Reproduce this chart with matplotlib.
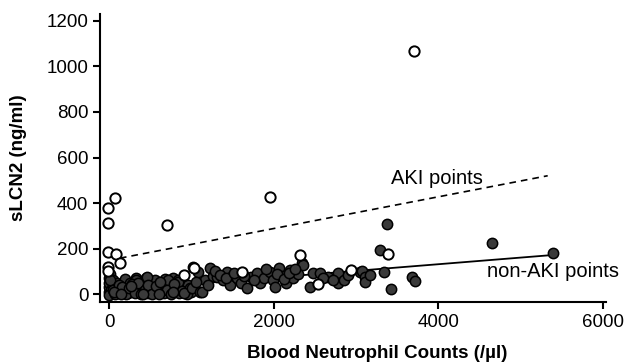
import matplotlib
matplotlib.use('Agg')
import matplotlib.pyplot as plt

plt.rcParams['font.family'] = ['Liberation Sans', 'DejaVu Sans']

# AKI points (open circles)
aki_x = [-10, 70, -10, -10, 85, 134, -10, -10, 705, 911, 1033, 1956, 1616,
         2320, 2540, 2940, 3390, 3705]
aki_y = [378, 422, 312, 185, 176, 136, 119, 100, 303, 83, 114, 426, 97,
         171, 44, 105, 176, 1068]

# non-AKI points (filled circles)
non_x = [0, 0, 0, 0, 10, 20, 30, 40, 50, 60, 80, 100, 110, 130, 150, 170, 190,
         210, 230, 250, 270, 300, 320, 340, 360, 380, 400, 420, 450, 470, 490,
         510, 540, 560, 580, 610, 630, 650, 680, 700, 720, 740, 760, 780, 800,
         820, 840, 860, 880, 900, 930, 960, 990, 320, 460, 710, 830,
         0, 15, 45, 75, 95, 120, 160, 200, 240, 280, 310, 350, 390, 430, 470,
         520, 570, 620, 660, 700, 750, 790, 850, 890, 940, 980, 60, 140, 260,
         410, 600, 770, 910,
         1010, 1020, 1080, 1100, 1130, 1160, 1220, 1260, 1310, 1380, 1430, 1470,
         1500, 1550, 1600, 1680, 1720, 1800, 1830, 1880, 1950, 1990, 2020, 2060,
         2100, 2150, 2200, 2230, 2290, 2345, 2360, 2440, 2480, 2560, 2660, 2780,
         2780, 2850, 2900, 3050,
         1050, 1200, 1290, 1350, 1420, 1520, 1640, 1760, 1900, 2040, 2120,
         2180, 2260, 2600, 2720,
         3074, 3110, 3110, 3171, 3293, 3341, 3378, 3426, 3681, 3718, 4654, 5395]
non_y = [10, 30, 50, 70, 90, 20, 5, 40, 60, 15, 30, 50, 5, 25, 45, 10, 65,
         30, 5, 50, 20, 40, 70, 10, 30, 55, 15, 35, 70, 5, 25,
         45, 15, 60, 30, 10, 45, 25, 65, 40, 10, 55, 30, 70, 15,
         45, 60, 25, 50, 35, 20, 40, 10, 62, 75, 62, 53,
         -5, 60, 20, 0, 15, 40, 30, 0, 25, 45, 5, 50, 0, 20, 40,
         0, 35, 55, 5, 20, 0, 45, 5, 15, 0, 25, 8, 2, 35,
         0, 0, 10, 5,
         26, 119, 97, 9, 9, 62, 114, 80, 75, 62, 97, 40,
         85, 70, 50, 26, 75, 92, 48, 70, 97, 60, 31, 114,
         80, 50, 106, 70, 90, 136, 127, 31, 92, 92, 75, 92,
         48, 60, 85, 97,
         55, 40, 100, 85, 70, 95, 80, 60, 110, 90, 65,
         95, 110, 70, 60,
         101, 75, 53, 84, 193, 97, 308, 22, 75, 57, 224, 180]

# fit lines (end points)
aki_fit_x = [130, 5330]
aki_fit_y = [158, 520]
non_fit_x = [0, 5395]
non_fit_y = [15, 172]

fig = plt.figure(figsize=(6.34, 3.64), dpi=100)
ax = fig.add_axes([0.158, 0.170, 0.798, 0.792])

ax.scatter(non_x, non_y, s=55, facecolor='#3a3a3a', edgecolor='black',
           linewidth=1.1, zorder=3)
ax.scatter(aki_x, aki_y, s=55, facecolor='white', edgecolor='black',
           linewidth=1.4, zorder=4)
ax.plot(aki_fit_x, aki_fit_y, color='black', lw=1.2, ls=(0, (4, 3)), zorder=2)
ax.plot(non_fit_x, non_fit_y, color='black', lw=1.3, zorder=2)

ax.text(3985, 510, 'AKI points', fontsize=14.5, ha='center', va='center')
ax.text(5400, 101, 'non-AKI points', fontsize=14.5, ha='center', va='center')

ax.set_xlim(-110, 6040)
ax.set_ylim(-35, 1231)
ax.set_xticks([0, 2000, 4000, 6000])
ax.set_yticks([0, 200, 400, 600, 800, 1000, 1200])
ax.spines['top'].set_visible(False)
ax.spines['right'].set_visible(False)
ax.spines['left'].set_linewidth(1.5)
ax.spines['bottom'].set_linewidth(1.5)
ax.tick_params(width=1.5, length=5, labelsize=13.5)

ax.set_xlabel('Blood Neutrophil Counts (/µl)', fontsize=13.5,
              fontweight='bold')
ax.set_ylabel('sLCN2 (ng/ml)', fontsize=13.5, fontweight='bold')
ax.xaxis.set_label_coords(0.547, -0.148)
ax.yaxis.set_label_coords(-0.145, 0.5)

fig.savefig('out.png', dpi=100)
